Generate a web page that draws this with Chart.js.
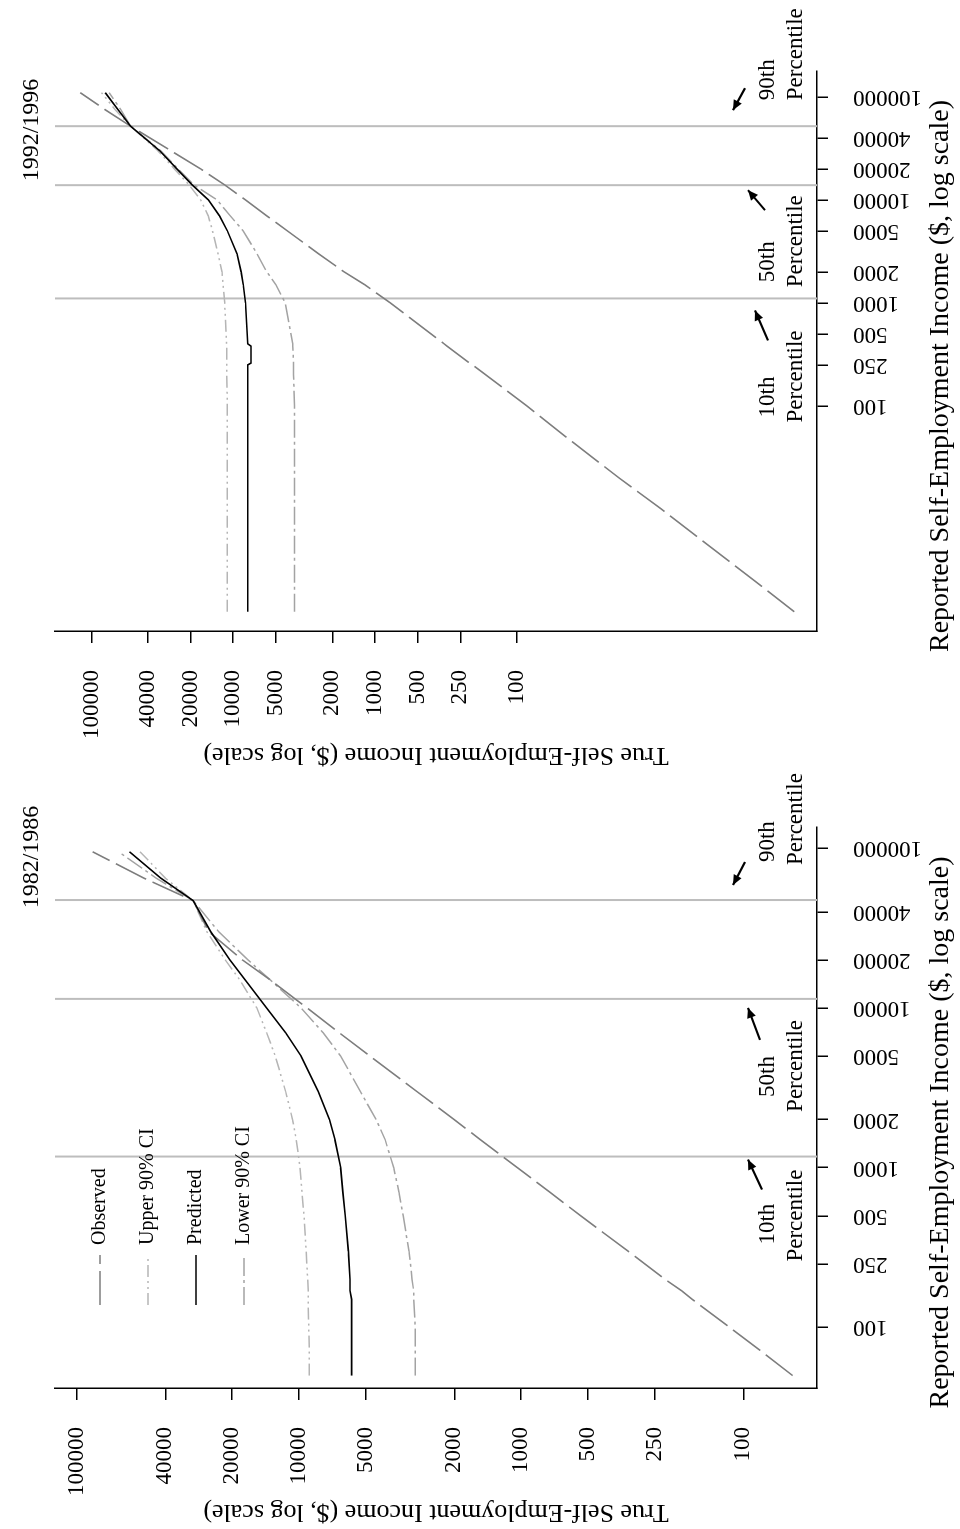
<!DOCTYPE html>
<html>
<head>
<meta charset="utf-8">
<script src="https://cdn.jsdelivr.net/npm/chart.js@4.4.1/dist/chart.umd.min.js"></script>
<style>
html,body{margin:0;padding:0;background:#fff;}
body{width:960px;height:1529px;overflow:hidden;position:relative;}
#wrap{position:absolute;left:0;top:0;width:1529px;height:960px;transform-origin:0 0;transform:translateY(1529px) rotate(-90deg);background:#fff;}
.panel{position:absolute;top:0;height:960px;}
</style>
</head>
<body>
<div id="wrap">
  <div class="panel" style="left:0;width:765px"><canvas id="c82" width="765" height="960"></canvas></div>
  <div class="panel" style="left:757px;width:772px"><canvas id="c92" width="772" height="960"></canvas></div>
</div>
<script>
// ---------- data ----------
const xTicks = [100, 250, 500, 1000, 2000, 5000, 10000, 20000, 40000, 100000];
const yTicks = [100, 250, 500, 1000, 2000, 5000, 10000, 20000, 40000, 100000];
const seriesNames = ['Observed', 'Upper 90% CI', 'Predicted', 'Lower 90% CI'];
const pctNames = ['10th', '50th', '90th'];
const xTitle = 'Reported Self-Employment Income ($, log scale)';
const yTitle = 'True Self-Employment Income ($, log scale)';

// 1982/1986 panel
const x82    = [50, 70, 100, 150, 170, 200, 300, 500, 700, 1000, 1500, 2000, 3000, 5000, 7000, 10000, 15000, 20000, 30000, 47000, 65000, 95000];
const obs82  = [60, 82, 115, 170, 190, 225, 330, 540, 740, 1040, 1530, 2000, 2950, 4800, 6600, 9200, 13500, 18000, 25500, 30000, 50000, 85000];
const up82   = [9000, 9000, 9050, 9100, 9100, 9150, 9300, 9500, 9700, 9900, 10300, 10700, 11500, 12800, 14000, 15500, 18500, 21500, 26000, 30000, 40000, 52000];
const pred82 = [5800, 5800, 5800, 5800, 5900, 5900, 6000, 6200, 6350, 6500, 6900, 7300, 8200, 9800, 11500, 14000, 17500, 20500, 25000, 30000, 42000, 58000];
const low82  = [3000, 3000, 3000, 3050, 3050, 3100, 3200, 3400, 3550, 3750, 4100, 4500, 5300, 6500, 7800, 9800, 13500, 17000, 23000, 30000, 44000, 65000];
const pct82  = [1175, 11400, 47400];

// 1992/1996 panel
const x92    = [1, 2, 5, 10, 20, 50, 100, 200, 250, 260, 380, 400, 1000, 1500, 2000, 3000, 5000, 7000, 10000, 14000, 20000, 30000, 52000, 75000, 110000];
const obs92  = [1.1, 2.1, 5, 9.6, 19, 45, 85, 165, 205, 215, 310, 325, 780, 1180, 1650, 2500, 4150, 5800, 8200, 11500, 17000, 27500, 53000, 80000, 120000];
const up92   = [11000, 11000, 11000, 11000, 11000, 11000, 11000, 11100, 11100, 11100, 11100, 11150, 11500, 11800, 12000, 12800, 14000, 15000, 17000, 20500, 26000, 34000, 53000, 68000, 85000];
const pred92 = [7900, 7900, 7900, 7900, 7900, 7900, 7900, 7900, 7900, 7500, 7500, 7900, 8200, 8500, 8800, 9400, 11000, 12500, 15000, 19500, 25000, 33000, 53000, 65000, 80000];
const low92  = [3700, 3700, 3700, 3700, 3700, 3700, 3700, 3750, 3750, 3750, 3800, 3800, 4300, 5000, 5800, 6800, 8500, 10500, 13000, 19000, 24500, 32500, 53000, 62000, 75000];
const pct92  = [1104, 13900, 52000];

// ---------- drawing ----------
const FONT = "'Liberation Serif', 'Times New Roman', serif";
Chart.defaults.font.family = FONT;
Chart.defaults.color = '#000';

const styles = [
  {borderColor: '#7d7d7d', borderWidth: 1.6, borderDash: [34, 7]},
  {borderColor: '#b5b5b5', borderWidth: 1.5, borderDash: [12, 4, 2, 4, 2, 4]},
  {borderColor: '#000000', borderWidth: 1.6, borderDash: []},
  {borderColor: '#a3a3a3', borderWidth: 1.5, borderDash: [18, 4, 3, 4]}
];

function arrow(ctx, x0, y0, x1, y1) {
  ctx.beginPath(); ctx.moveTo(x0, y0); ctx.lineTo(x1, y1); ctx.stroke();
  const a = Math.atan2(y1 - y0, x1 - x0), L = 10, W = 4.5;
  ctx.beginPath();
  ctx.moveTo(x1, y1);
  ctx.lineTo(x1 - L * Math.cos(a) + W * Math.sin(a), y1 - L * Math.sin(a) - W * Math.cos(a));
  ctx.lineTo(x1 - L * Math.cos(a) - W * Math.sin(a), y1 - L * Math.sin(a) + W * Math.cos(a));
  ctx.closePath(); ctx.fill();
}

const annot = {
  id: 'annot',
  afterDraw(chart, args, o) {
    const {ctx, chartArea: a, scales: {x}} = chart;
    ctx.save();
    ctx.fillStyle = '#000';
    ctx.strokeStyle = '#000';
    ctx.textBaseline = 'middle';
    // panel title
    ctx.font = `24px ${FONT}`;
    ctx.textAlign = 'center';
    ctx.fillText(o.title, a.right + o.titleDx, 32);
    // x-axis title
    ctx.font = `28px ${FONT}`;
    ctx.fillText(xTitle, (a.left + a.right) / 2 - 25, 941);
    // legend
    if (o.legend) {
      ctx.font = `20px ${FONT}`;
      ctx.textAlign = 'left';
      seriesNames.forEach((n, i) => {
        const yy = a.top + 45 + i * 48;
        const st = styles[i];
        ctx.save();
        ctx.strokeStyle = st.borderColor; ctx.lineWidth = st.borderWidth;
        ctx.setLineDash(st.borderDash);
        ctx.beginPath(); ctx.moveTo(a.left + 83, yy); ctx.lineTo(a.left + 133, yy); ctx.stroke();
        ctx.restore();
        ctx.fillText(n, a.left + 143, yy);
      });
    }
    // percentile annotations
    ctx.font = `23px ${FONT}`;
    ctx.lineWidth = 2;
    ctx.textAlign = 'left';
    o.pct.forEach((p, i) => {
      const px = x.getPixelForValue(p);
      const yb = a.bottom;
      const g = o.ann[i];
      ctx.fillText(pctNames[i], px + g.n, yb - 49);
      ctx.fillText('Percentile', px + g.p, yb - 21);
      arrow(ctx, px + g.a[0], yb - g.a[1], px + g.a[2], yb - g.a[3]);
    });
    ctx.restore();
  }
};

function pts(xs, ys) { return xs.map((v, i) => ({x: v, y: ys[i]})); }

function makeChart(id, cfg) {
  const sets = [cfg.obs, cfg.up, cfg.pred, cfg.low];
  const datasets = sets.map((s, i) => Object.assign({
    label: seriesNames[i], data: pts(cfg.xs, s), pointRadius: 0, tension: 0, fill: false,
    order: i === 2 ? 0 : 1
  }, styles[i]));
  cfg.pct.forEach(p => datasets.push({
    label: 'pct', data: [{x: p, y: cfg.ymin}, {x: p, y: cfg.ymax}],
    borderColor: '#bdbdbd', borderWidth: 2, pointRadius: 0, order: 2
  }));
  const tickFont = {family: FONT, size: 23};
  const titleFont = {family: FONT, size: 26, lineHeight: 1.2};
  return new Chart(document.getElementById(id), {
    type: 'line',
    data: {datasets},
    plugins: [annot],
    options: {
      responsive: false, animation: false, devicePixelRatio: 1,
      layout: {padding: {left: 0, top: 55, right: cfg.padRight, bottom: 0}},
      plugins: {legend: {display: false}, tooltip: {enabled: false},
        annot: {title: cfg.title, titleDx: cfg.titleDx, pct: cfg.pct, legend: cfg.legend, ann: cfg.ann}},
      scales: {
        x: {
          type: 'logarithmic', min: cfg.xmin, max: cfg.xmax,
          afterBuildTicks: s => { s.ticks = xTicks.map(v => ({value: v})); },
          afterFit: s => { s.height = 143; },
          grid: {drawOnChartArea: false, drawTicks: true, tickLength: 11, color: '#000', lineWidth: 1.5},
          border: {display: true, color: '#000', width: 1.5},
          ticks: {autoSkip: false, maxRotation: 90, minRotation: 90, font: tickFont, padding: 25, color: '#000',
            callback: v => String(v)},
          title: {display: false, text: xTitle}
        },
        y: {
          type: 'logarithmic', min: cfg.ymin, max: cfg.ymax,
          afterBuildTicks: s => { s.ticks = yTicks.map(v => ({value: v})); },
          afterFit: s => { s.width = 141; },
          grid: {drawOnChartArea: false, drawTicks: true, tickLength: 12, color: '#000', lineWidth: 1.5},
          border: {display: true, color: '#000', width: 1.5},
          ticks: {autoSkip: false, font: tickFont, padding: 27, color: '#000', callback: v => String(v)},
          title: {display: true, text: yTitle, font: titleFont, color: '#000', padding: {top: 2, bottom: 0}}
        }
      }
    }
  });
}

makeChart('c82', {title: '1982/1986', titleDx: -30, xs: x82, obs: obs82, up: up82, pred: pred82, low: low82, pct: pct82,
  xmin: 41.8, xmax: 135800, ymin: 46.6, ymax: 125600, padRight: 63, legend: true,
  ann: [{n: -88, p: -105, a: [-33, 55, -3, 69]}, {n: -98, p: -113, a: [-41, 57, -9, 69]}, {n: 38, p: 35, a: [38, 72, 15, 84]}]});
makeChart('c92', {title: '1992/1996', titleDx: -59, xs: x92, obs: obs92, up: up92, pred: pred92, low: low92, pct: pct92,
  xmin: 0.65, xmax: 178600, ymin: 0.76, ymax: 181000, padRight: 71, legend: false,
  ann: [{n: -119, p: -124, a: [-42, 49, -12, 62]}, {n: -97, p: -102, a: [-25, 52, -5, 69]}, {n: 26, p: 26, a: [38, 72, 16, 84]}]});
</script>
</body>
</html>
